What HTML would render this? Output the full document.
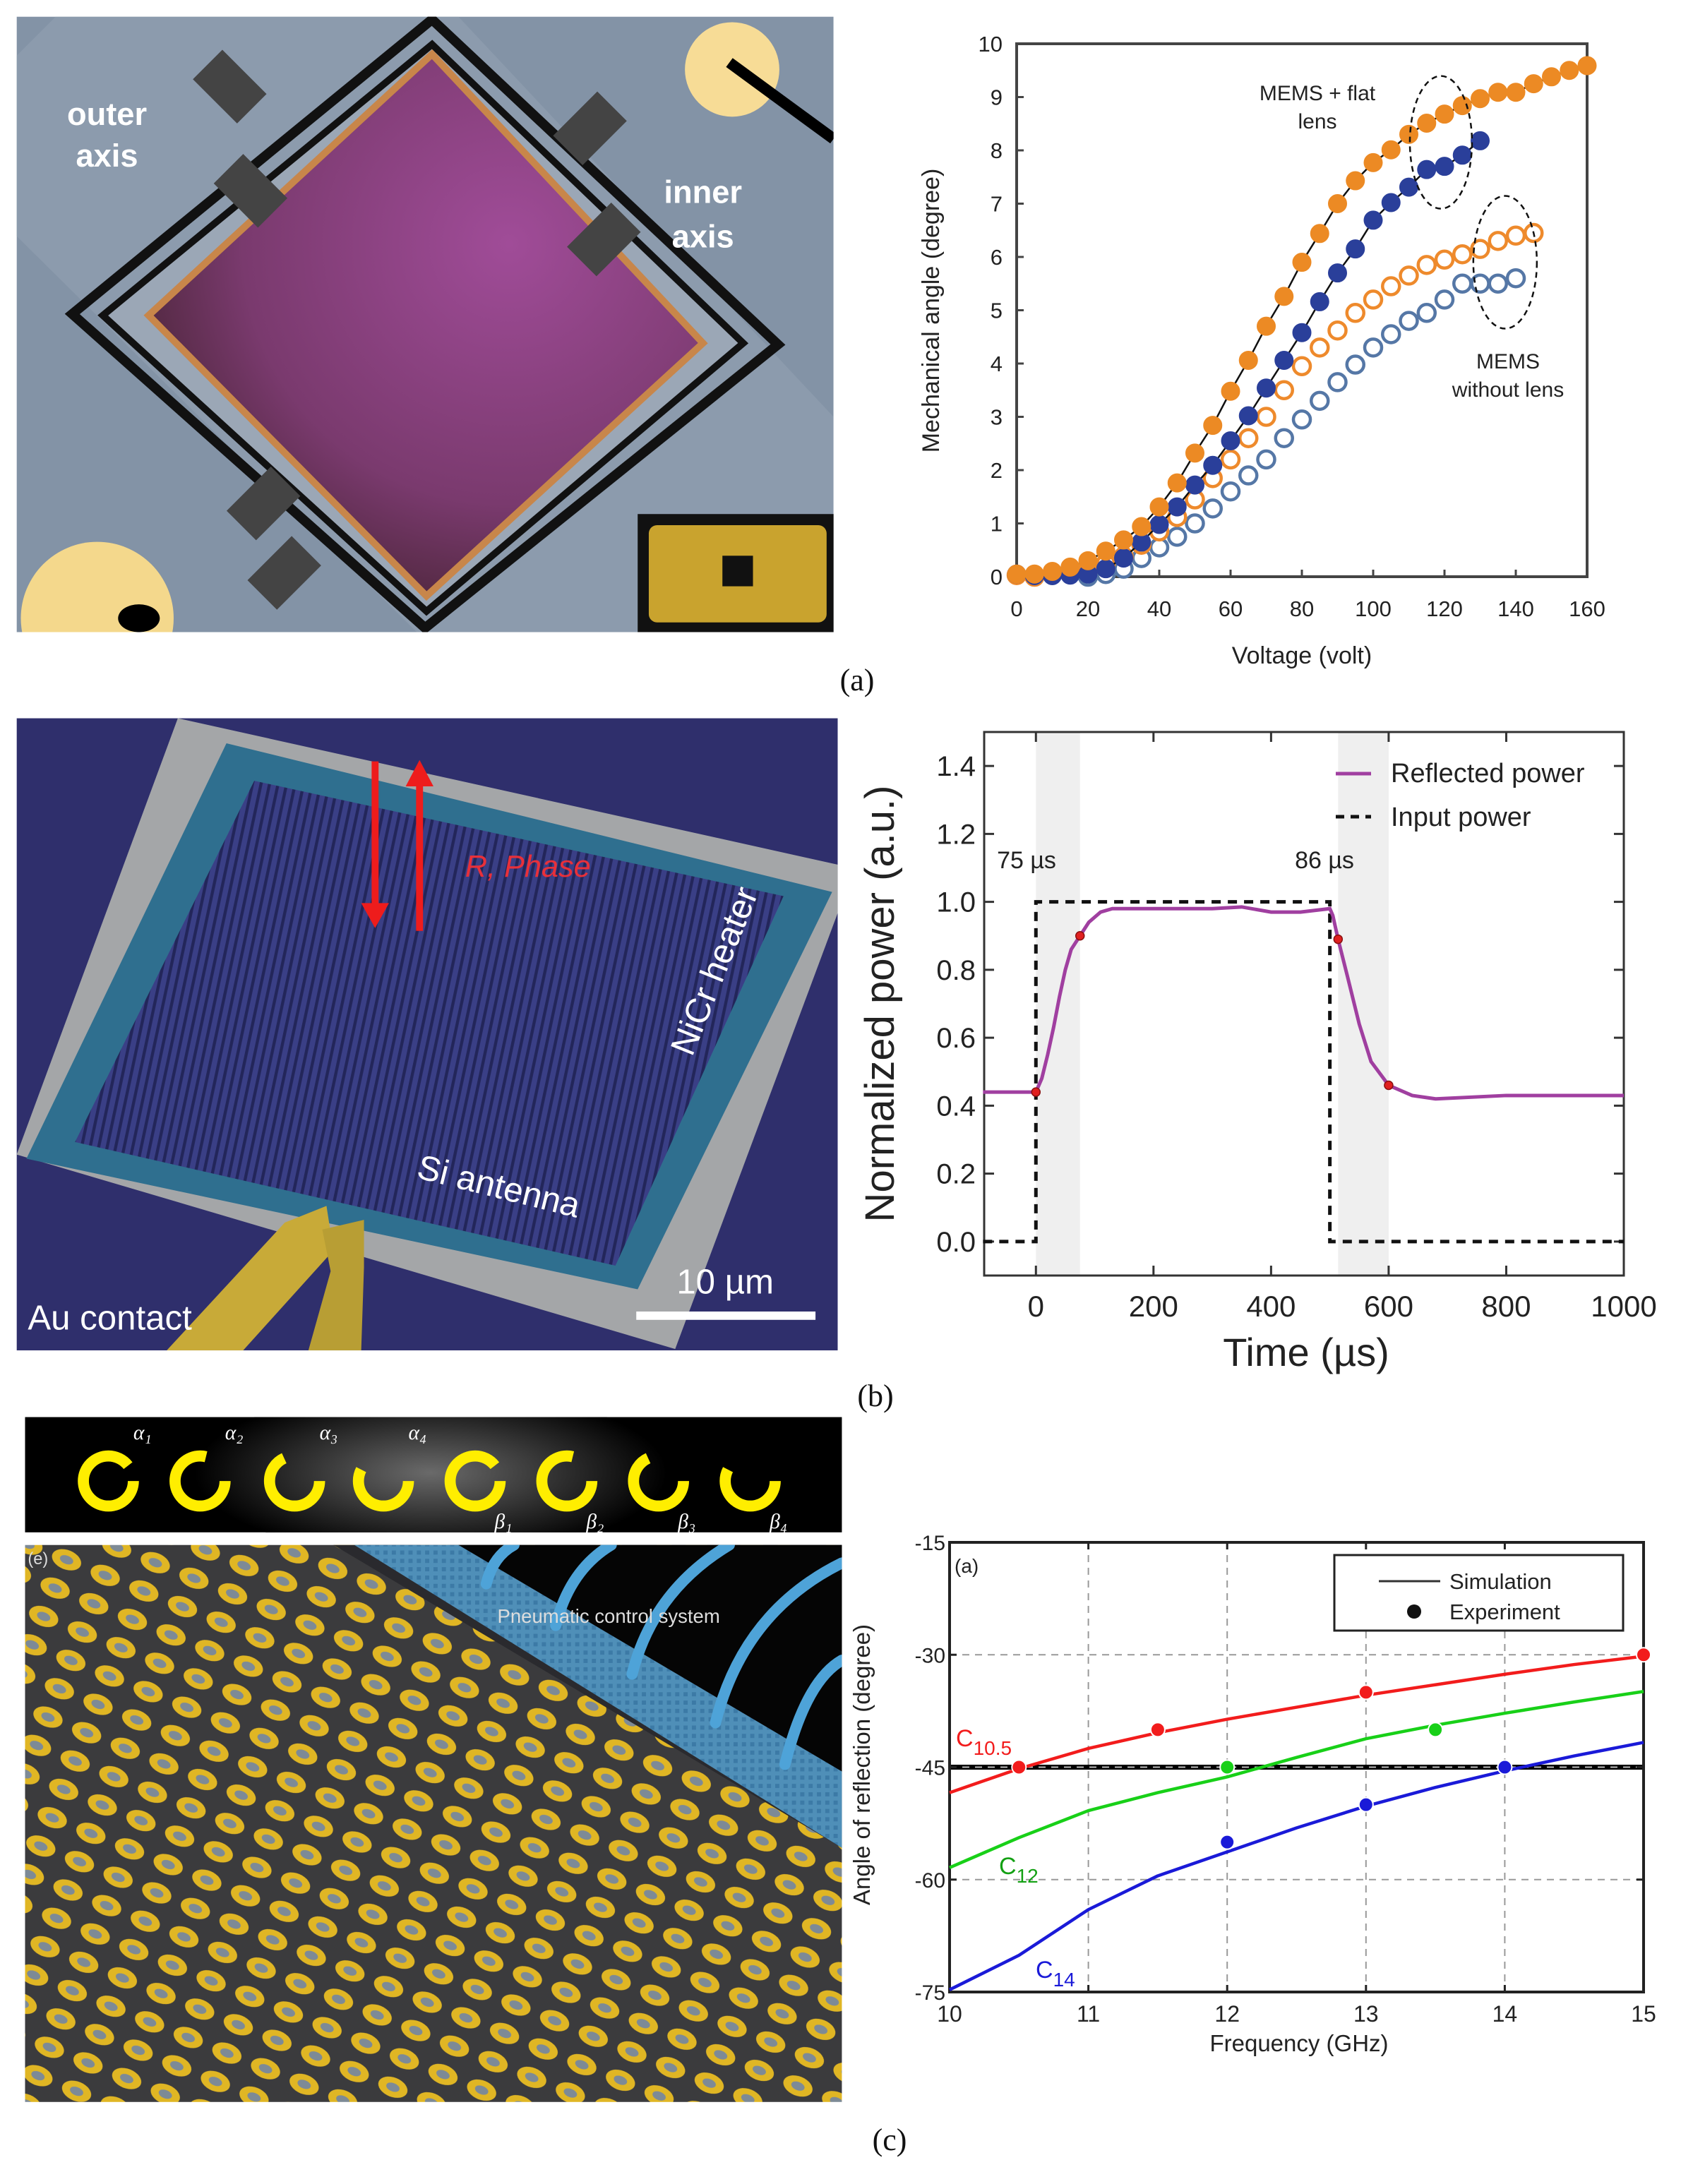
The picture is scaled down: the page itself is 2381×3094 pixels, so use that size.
<!DOCTYPE html>
<html><head><meta charset="utf-8">
<style>
html,body{margin:0;padding:0;background:#fff;}
#wrap{position:relative;width:2381px;height:3094px;overflow:hidden;font-family:"Liberation Sans",sans-serif;}
svg{position:absolute;left:0;top:0;}
</style></head>
<body>
<div id="wrap">
<svg width="2381" height="3094" viewBox="0 0 1210 1572" preserveAspectRatio="none">
<defs>
<radialGradient id="pinkG" cx="0.65" cy="0.35" r="0.8"><stop offset="0" stop-color="#a04c98"/><stop offset="0.6" stop-color="#7a3a6e"/><stop offset="1" stop-color="#3a1e26"/></radialGradient>
<pattern id="stripes" width="6" height="20" patternUnits="userSpaceOnUse" patternTransform="rotate(12)"><rect width="6" height="20" fill="#3a3f86"/><rect width="2.2" height="20" fill="#23265a"/></pattern>
<radialGradient id="glow" cx="0.5" cy="0.5" r="0.5"><stop offset="0" stop-color="#6a6a6a"/><stop offset="1" stop-color="#000"/></radialGradient>
<pattern id="dots" width="30" height="22" patternUnits="userSpaceOnUse" patternTransform="rotate(22)"><rect width="30" height="22" fill="#3b3b3d"/><ellipse cx="15" cy="11" rx="11" ry="7" fill="#e0b624"/><ellipse cx="15" cy="11" rx="5" ry="3" fill="#7d8a96"/></pattern>
<pattern id="grid" width="6" height="6" patternUnits="userSpaceOnUse"><rect width="6" height="6" fill="#4f8fb8"/><rect width="3" height="3" fill="#3c7aa6"/></pattern>
<clipPath id="clipA"><rect x="12" y="12" width="588" height="443"/></clipPath>
<clipPath id="clipS"><rect x="18" y="1020" width="588" height="83"/></clipPath>
</defs>
<g clip-path="url(#clipA)">
<rect x="12" y="12" width="588" height="443" fill="#8393a6"/>
<polygon points="40,12 330,12 600,300 600,455 300,455 12,170 12,40" fill="#96a3b4" opacity="0.5"/>
<polygon points="311,14 560,248 306,452 52,226" fill="none" stroke="#111" stroke-width="7"/>
<polygon points="311,32 535,247 307,440 74,227" fill="#9ba7b6" stroke="#111" stroke-width="5"/>
<polygon points="311,39 506,247 307,429 107,227" fill="url(#pinkG)" stroke="#c8864a" stroke-width="5"/>
<circle cx="527" cy="50" r="34" fill="#f7dc96"/>
<path d="M525,45 L600,100" stroke="#000" stroke-width="8"/>
<circle cx="70" cy="445" r="55" fill="#f4d88c"/>
<ellipse cx="100" cy="445" rx="15" ry="10" fill="#000"/>
<g fill="#444"><rect x="150" y="40" width="30" height="45" transform="rotate(-45 165 62)"/><rect x="165" y="115" width="30" height="45" transform="rotate(-45 180 137)"/><rect x="410" y="70" width="30" height="45" transform="rotate(45 425 92)"/><rect x="420" y="150" width="30" height="45" transform="rotate(45 435 172)"/><rect x="175" y="340" width="30" height="45" transform="rotate(45 190 362)"/><rect x="190" y="390" width="30" height="45" transform="rotate(45 205 412)"/></g>
<rect x="459" y="370" width="144" height="86" fill="#111"/>
<rect x="467" y="378" width="128" height="70" rx="6" fill="#c9a32e"/>
<rect x="520" y="400" width="22" height="22" fill="#111"/>
<text x="77" y="90" fill="#fff" font-size="23" font-weight="bold" text-anchor="middle">outer</text>
<text x="77" y="120" fill="#fff" font-size="23" font-weight="bold" text-anchor="middle">axis</text>
<text x="506" y="146" fill="#fff" font-size="23" font-weight="bold" text-anchor="middle">inner</text>
<text x="506" y="178" fill="#fff" font-size="23" font-weight="bold" text-anchor="middle">axis</text>
</g>
<g>
<clipPath id="clipB"><rect x="12" y="517" width="591" height="455"/></clipPath>
<g clip-path="url(#clipB)">
<rect x="12" y="517" width="591" height="455" fill="#2f2f6c"/>
<polygon points="128,517 615,625 486,971 12,831" fill="#a4a6a8"/>
<polygon points="163,535 599,642 459,928 19,834" fill="#2f6f8f"/>
<polygon points="183,562 564,645 443,911 54,822" fill="url(#stripes)"/>
<polygon points="205,880 235,868 240,900 175,972 120,972" fill="#c8aa38"/>
<polygon points="232,885 262,878 262,912 260,972 222,972 238,915" fill="#b89e34"/>
<line x1="270" y1="548" x2="270" y2="660" stroke="#ee1c1c" stroke-width="5"/><polygon points="260,650 280,650 270,668" fill="#ee1c1c"/>
<line x1="302" y1="563" x2="302" y2="670" stroke="#ee1c1c" stroke-width="5"/><polygon points="292,566 312,566 302,547" fill="#ee1c1c"/>
<text x="380" y="631" fill="#e8303a" font-size="22" font-style="italic" text-anchor="middle">R, Phase</text>
<text x="0" y="0" fill="#fff" font-size="25" text-anchor="middle" transform="translate(522,702) rotate(-68)">NiCr heater</text>
<text x="0" y="0" fill="#fff" font-size="25" text-anchor="middle" transform="translate(357,862) rotate(14)">Si antenna</text>
<text x="20" y="957" fill="#fff" font-size="25">Au contact</text>
<text x="522" y="931" fill="#fff" font-size="25" text-anchor="middle">10 µm</text>
<rect x="458" y="944" width="129" height="6" fill="#fff"/>
</g></g>
<g>
<g clip-path="url(#clipS)">
<rect x="18" y="1020" width="588" height="83" fill="#000"/>
<ellipse cx="310" cy="1060" rx="170" ry="60" fill="url(#glow)"/>
</g>
<g id="rings"></g>
</g>
<g>
<clipPath id="clipC"><rect x="18" y="1112" width="588" height="401"/></clipPath>
<g clip-path="url(#clipC)">
<rect x="18" y="1112" width="588" height="401" fill="url(#dots)"/>
<polygon points="240,1112 606,1112 606,1330" fill="#2a2a2e"/>
<polygon points="255,1112 330,1112 606,1275 606,1330" fill="url(#grid)"/>
<polygon points="330,1112 606,1112 606,1275" fill="#050505"/>
<g fill="none" stroke="#4ea3d8" stroke-width="8" stroke-linecap="round">
<path d="M350,1140 q5,-20 20,-28"/><path d="M400,1170 q10,-40 40,-58"/><path d="M455,1205 q15,-60 70,-93"/><path d="M515,1240 q20,-80 91,-115"/><path d="M565,1270 q15,-60 41,-75"/></g>
<text x="358" y="1168" fill="#ddd" font-size="14">Pneumatic control system</text>
<text x="20" y="1126" fill="#ddd" font-size="12">(e)</text>
</g></g>
</svg>

<svg id="charts" width="2381" height="3094" viewBox="0 0 2381 3094"></svg>
</div>

<script>
const aVolt = [0,5,10,15,20,25,30,35,40,45,50,55,60,65,70,75,80,85,90,95,100,105,110,115,120,125,130,135,140,145,150,155,160];
const aOrangeFilled = [0.05,0.05,0.1,0.18,0.3,0.48,0.69,0.94,1.31,1.76,2.32,2.84,3.48,4.06,4.7,5.26,5.9,6.44,7.0,7.43,7.77,8.01,8.3,8.51,8.68,8.84,8.97,9.09,9.09,9.25,9.38,9.5,9.59];
const aBlueFilled = [0.05,0.02,0.02,0.03,0.05,0.15,0.35,0.65,0.98,1.31,1.72,2.09,2.55,3.02,3.54,4.06,4.58,5.16,5.7,6.15,6.69,7.02,7.31,7.64,7.7,7.91,8.18];
const aOrangeOpen = [0.03,0.0,0.05,0.1,0.12,0.25,0.38,0.6,0.85,1.12,1.45,1.85,2.2,2.6,3.0,3.5,3.95,4.3,4.62,4.95,5.2,5.45,5.65,5.85,5.95,6.05,6.15,6.3,6.4,6.45];
const aBlueOpenVolt = [20,25,30,35,40,45,50,55,60,65,70,75,80,85,90,95,100,105,110,115,120,125,130,135,140];
const aBlueOpen = [0.0,0.05,0.15,0.35,0.55,0.75,1.0,1.28,1.6,1.9,2.2,2.6,2.95,3.3,3.65,3.98,4.3,4.55,4.8,4.95,5.2,5.5,5.5,5.5,5.6];
const aXTicks = [0,20,40,60,80,100,120,140,160];
const aYTicks = [0,1,2,3,4,5,6,7,8,9,10];

const bTime = [-90,-50,0,10,20,30,40,50,60,75,90,110,130,200,300,350,400,450,500,505,514,530,550,570,600,640,680,800,900,1000];
const bReflected = [0.44,0.44,0.44,0.48,0.55,0.63,0.72,0.8,0.86,0.9,0.94,0.97,0.98,0.98,0.98,0.985,0.97,0.97,0.98,0.96,0.89,0.78,0.64,0.53,0.46,0.43,0.42,0.43,0.43,0.43];
const bInputTime = [-90,0,0,500,500,1000];
const bInput = [0,0,1,1,0,0];
const bMarkT = [0,75,514,600];
const bMarkV = [0.44,0.9,0.89,0.46];
const bXTicks = [0,200,400,600,800,1000];
const bYTicks = [0.0,0.2,0.4,0.6,0.8,1.0,1.2,1.4];

const cFreq = [10,10.5,11,11.5,12,12.5,13,13.5,14,14.5,15];
const cRed = [-48.4,-45.2,-42.5,-40.4,-38.6,-37,-35.4,-34,-32.6,-31.3,-30.2];
const cGreen = [-58.4,-54.4,-50.8,-48.4,-46.3,-43.7,-41.2,-39.4,-37.8,-36.3,-34.9];
const cBlue = [-74.7,-70.1,-64,-59.5,-56.3,-53.1,-50.2,-47.7,-45.5,-43.5,-41.7];
const cRedExpF = [10.5,11.5,13,15];
const cRedExp = [-45,-40,-35,-30];
const cGreenExpF = [12,13.5];
const cGreenExp = [-45,-40];
const cBlueExpF = [12,13,14];
const cBlueExp = [-55,-50,-45];
const cXTicks = [10,11,12,13,14,15];
const cYTicks = [-75,-60,-45,-30,-15];

const NS = 'http://www.w3.org/2000/svg';
const svg = document.getElementById('charts');
function el(tag, attrs, parent, text){
  const e = document.createElementNS(NS, tag);
  for (const k in attrs) e.setAttribute(k, attrs[k]);
  if (text !== undefined) e.textContent = text;
  (parent || svg).appendChild(e);
  return e;
}
function lin(d0,d1,r0,r1){ return v => r0 + (v-d0)/(d1-d0)*(r1-r0); }

(function(){
  const g = document.getElementById('rings');
  const cx = [78,144,212,276,342,408,474,540];
  const names = ['α','α','α','α','β','β','β','β'];
  for (let i=0;i<8;i++){
    const c = document.createElementNS(NS,'circle');
    c.setAttribute('cx',cx[i]); c.setAttribute('cy',1066); c.setAttribute('r',18);
    c.setAttribute('fill','none'); c.setAttribute('stroke','#ffee00'); c.setAttribute('stroke-width',8);
    c.setAttribute('stroke-dasharray', (113-12*(i%4+1))+' '+(12*(i%4+1)));
    
    
    g.appendChild(c);
    const t = document.createElementNS(NS,'text');
    t.setAttribute('x', cx[i]+(i<4?18:14)); t.setAttribute('y', i<4?1036:1100);
    t.setAttribute('fill','#fff'); t.setAttribute('font-size','15'); t.setAttribute('font-style','italic');
    t.setAttribute('font-family','"Liberation Serif",serif');
    t.textContent = names[i] + String.fromCharCode(0x2081 + (i%4));
    
    
    g.appendChild(t);
  }
})();

(function(){
  const L=1440,R=2248,T=62,B=817;
  const x = lin(0,160,L,R), y = lin(0,10,B,T);
  const g = el('g',{});  
  el('rect',{x:L,y:T,width:R-L,height:B-T,fill:'#fff',stroke:'#444','stroke-width':4},g);
  aXTicks.forEach(v=>{
    el('line',{x1:x(v),y1:B,x2:x(v),y2:B-10,stroke:'#444','stroke-width':3},g);
    const t=el('text',{x:x(v),y:B+56,'font-size':31,'text-anchor':'middle',fill:'#222'},g,String(v));
     
  });
  aYTicks.forEach(v=>{
    el('line',{x1:L,y1:y(v),x2:L+10,y2:y(v),stroke:'#444','stroke-width':3},g);
    const t=el('text',{x:L-20,y:y(v)+11,'font-size':31,'text-anchor':'end',fill:'#222'},g,String(v));
     
  });
  const xt=el('text',{x:(L+R)/2,y:940,'font-size':34,'text-anchor':'middle',fill:'#222'},g,'Voltage (volt)');
   
  const yt=el('text',{x:0,y:0,'font-size':34,'text-anchor':'middle',fill:'#222',transform:'translate(1330,440) rotate(-90)'},g,'Mechanical angle (degree)');
   
  function series(xs, ys, color, filled, name){
    const sg = el('g',{},g);
     
    if (filled){
      const pts = ys.map((v,i)=>x(xs[i])+','+y(v)).join(' ');
      el('polyline',{points:pts,fill:'none',stroke:'#111','stroke-width':2.5},sg);
    }
    ys.forEach((v,i)=>{
      const c = el('circle',{cx:x(xs[i]),cy:y(v),r:filled?13:12,fill:filled?color:'#fff',stroke:color,'stroke-width':filled?1:4.5},sg);
       
    });
  }
  series(aBlueOpenVolt, aBlueOpen, '#5577a6', false, 'series-blue-open');
  series(aVolt.slice(0,aOrangeOpen.length), aOrangeOpen, '#ee8a2c', false, 'series-orange-open');
  series(aVolt.slice(0,aBlueFilled.length), aBlueFilled, '#2a3f9a', true, 'series-blue-filled');
  series(aVolt, aOrangeFilled, '#ec8a24', true, 'series-orange-filled');
  const e1=el('ellipse',{cx:x(119),cy:y(8.15),rx:44,ry:94,fill:'none',stroke:'#111','stroke-width':2.5,'stroke-dasharray':'8 6'},g);
   
  const e2=el('ellipse',{cx:x(137),cy:y(5.9),rx:45,ry:94,fill:'none',stroke:'#111','stroke-width':2.5,'stroke-dasharray':'8 6'},g);
   
  [['MEMS + flat',1866,142],['lens',1866,182],['MEMS',2136,522],['without lens',2136,562]].forEach(a=>{
    const t=el('text',{x:a[1],y:a[2],'font-size':30,'text-anchor':'middle',fill:'#222'},g,a[0]);
     
  });
  const p=el('text',{x:1214,y:978,'font-size':44,'text-anchor':'middle',fill:'#111','font-family':'"Liberation Serif",serif'},g,'(a)');
   
})();

(function(){
  const L=1394,R=2300,T=1037,B=1807;
  const x = lin(-88,1000,L,R), y = lin(-0.1,1.5,B,T);
  const g = el('g',{});  
  el('rect',{x:L,y:T,width:R-L,height:B-T,fill:'#fff'},g);
  const s1=el('rect',{x:x(0),y:T,width:x(75)-x(0),height:B-T,fill:'#efefef'},g);
   
  const s2=el('rect',{x:x(514),y:T,width:x(600)-x(514),height:B-T,fill:'#efefef'},g);
   
  el('rect',{x:L,y:T,width:R-L,height:B-T,fill:'none',stroke:'#333','stroke-width':3},g);
  bXTicks.forEach(v=>{
    el('line',{x1:x(v),y1:B,x2:x(v),y2:B-14,stroke:'#333','stroke-width':3},g);
    el('line',{x1:x(v),y1:T,x2:x(v),y2:T+14,stroke:'#333','stroke-width':3},g);
    const t=el('text',{x:x(v),y:B+58,'font-size':42,'text-anchor':'middle',fill:'#222'},g,String(v));
     
  });
  bYTicks.forEach(v=>{
    el('line',{x1:L,y1:y(v),x2:L+14,y2:y(v),stroke:'#333','stroke-width':3},g);
    el('line',{x1:R,y1:y(v),x2:R-14,y2:y(v),stroke:'#333','stroke-width':3},g);
    const t=el('text',{x:L-12,y:y(v)+14,'font-size':40,'text-anchor':'end',fill:'#222'},g,v.toFixed(1));
     
  });
  const inp=el('polyline',{points:bInputTime.map((t,i)=>x(t)+','+y(bInput[i])).join(' '),fill:'none',stroke:'#111','stroke-width':5,'stroke-dasharray':'13 10'},g);
   
  const ref=el('polyline',{points:bTime.map((t,i)=>x(t)+','+y(bReflected[i])).join(' '),fill:'none',stroke:'#a03fa0','stroke-width':5},g);
   
  bMarkT.forEach((t,i)=>{
    const c=el('circle',{cx:x(t),cy:y(bMarkV[i]),r:6,fill:'#e02020',stroke:'#8a1010','stroke-width':1.5},g);
     
  });
  const l1=el('line',{x1:1892,y1:1096,x2:1942,y2:1096,stroke:'#a03fa0','stroke-width':5},g);
   
  const t1=el('text',{x:1970,y:1108,'font-size':38,fill:'#222'},g,'Reflected power');
   
  const l2=el('line',{x1:1892,y1:1157,x2:1942,y2:1157,stroke:'#111','stroke-width':5,'stroke-dasharray':'12 9'},g);
   
  const t2=el('text',{x:1970,y:1170,'font-size':38,fill:'#222'},g,'Input power');
   
  const a1=el('text',{x:1454,y:1230,'font-size':34,'text-anchor':'middle',fill:'#222'},g,'75 µs');
   
  const a2=el('text',{x:1876,y:1230,'font-size':34,'text-anchor':'middle',fill:'#222'},g,'86 µs');
   
  const xt=el('text',{x:1850,y:1935,'font-size':56,'text-anchor':'middle',fill:'#222'},g,'Time (µs)');
   
  const yt=el('text',{x:0,y:0,'font-size':58,'text-anchor':'middle',fill:'#222',transform:'translate(1266,1422) rotate(-90)'},g,'Normalized power (a.u.)');
   
  const p=el('text',{x:1240,y:1992,'font-size':44,'text-anchor':'middle',fill:'#111','font-family':'"Liberation Serif",serif'},g,'(b)');
   
})();

(function(){
  const L=1345,R=2328,T=2185,B=2822;
  const x = lin(10,15,L,R), y = lin(-75,-15,B,T);
  const g = el('g',{});  
  el('rect',{x:L,y:T,width:R-L,height:B-T,fill:'#fff'},g);
  cXTicks.slice(1,-1).forEach(v=>{
    el('line',{x1:x(v),y1:T,x2:x(v),y2:B,stroke:'#999','stroke-width':2,'stroke-dasharray':'10 8'},g);
  });
  [-60,-45,-30].forEach(v=>{
    el('line',{x1:L,y1:y(v),x2:R,y2:y(v),stroke:'#999','stroke-width':2,'stroke-dasharray':'10 8'},g);
  });
  const ref=el('line',{x1:L,y1:y(-45),x2:R,y2:y(-45),stroke:'#000','stroke-width':7},g);
   
  el('line',{x1:L,y1:y(-45),x2:R,y2:y(-45),stroke:'#bbb','stroke-width':2,'stroke-dasharray':'10 8'},g);
  el('rect',{x:L,y:T,width:R-L,height:B-T,fill:'none',stroke:'#222','stroke-width':4},g);
  cXTicks.forEach(v=>{
    el('line',{x1:x(v),y1:B,x2:x(v),y2:B-10,stroke:'#222','stroke-width':3},g);
    el('line',{x1:x(v),y1:T,x2:x(v),y2:T+10,stroke:'#222','stroke-width':3},g);
    const t=el('text',{x:x(v),y:B+42,'font-size':32,'text-anchor':'middle',fill:'#222'},g,String(v));
     
  });
  cYTicks.forEach(v=>{
    el('line',{x1:L,y1:y(v),x2:L+10,y2:y(v),stroke:'#222','stroke-width':3},g);
    el('line',{x1:R,y1:y(v),x2:R-10,y2:y(v),stroke:'#222','stroke-width':3},g);
    const t=el('text',{x:L-6,y:y(v)+11,'font-size':30,'text-anchor':'end',fill:'#222'},g,String(v));
     
  });
  function curve(vals,color,name){
    const pl=el('polyline',{points:cFreq.map((f,i)=>x(f)+','+y(vals[i])).join(' '),fill:'none',stroke:color,'stroke-width':4.5,'stroke-linejoin':'round'},g);
     
  }
  function pts(fs,vs,color,name){
    fs.forEach((f,i)=>{
      const c=el('circle',{cx:x(f),cy:y(vs[i]),r:10,fill:color,stroke:'#fff','stroke-width':2},g);
       
    });
  }
  curve(cRed,'#f21c1c','curve-c10-5'); curve(cGreen,'#18d018','curve-c12'); curve(cBlue,'#1a1ad8','curve-c14');
  pts(cRedExpF,cRedExp,'#f21c1c','exp-point-c10-5'); pts(cGreenExpF,cGreenExp,'#18d018','exp-point-c12'); pts(cBlueExpF,cBlueExp,'#1a1ad8','exp-point-c14');
  function lab(txt,sub,xx,yy,color,name){
    const t=el('text',{x:xx,y:yy,'font-size':34,fill:color},g);
     
    el('tspan',{},t,txt); el('tspan',{dy:12,'font-size':28},t,sub);
  }
  lab('C','10.5',1354,2474,'#f21c1c','label-c10-5');
  lab('C','12',1415,2655,'#13a013','label-c12');
  lab('C','14',1467,2802,'#1a1ad8','label-c14');
  const pa=el('text',{x:1352,y:2228,'font-size':28,fill:'#222'},g,'(a)');
   
  const lg=el('rect',{x:1890,y:2203,width:409,height:107,fill:'#fff',stroke:'#222','stroke-width':3},g);
   
  el('line',{x1:1953,y1:2240,x2:2040,y2:2240,stroke:'#333','stroke-width':3},g);
  const lt1=el('text',{x:2053,y:2251,'font-size':31,fill:'#222'},g,'Simulation');
   
  el('circle',{cx:2003,cy:2283,r:10,fill:'#111'},g);
  const lt2=el('text',{x:2053,y:2294,'font-size':31,fill:'#222'},g,'Experiment');
   
  const xt=el('text',{x:1840,y:2906,'font-size':33,'text-anchor':'middle',fill:'#222'},g,'Frequency (GHz)');
   
  const yt=el('text',{x:0,y:0,'font-size':33,'text-anchor':'middle',fill:'#222',transform:'translate(1232,2500) rotate(-90)'},g,'Angle of reflection (degree)');
   
  const p=el('text',{x:1260,y:3046,'font-size':44,'text-anchor':'middle',fill:'#111','font-family':'"Liberation Serif",serif'},g,'(c)');
   
})();
</script>
</body></html>
